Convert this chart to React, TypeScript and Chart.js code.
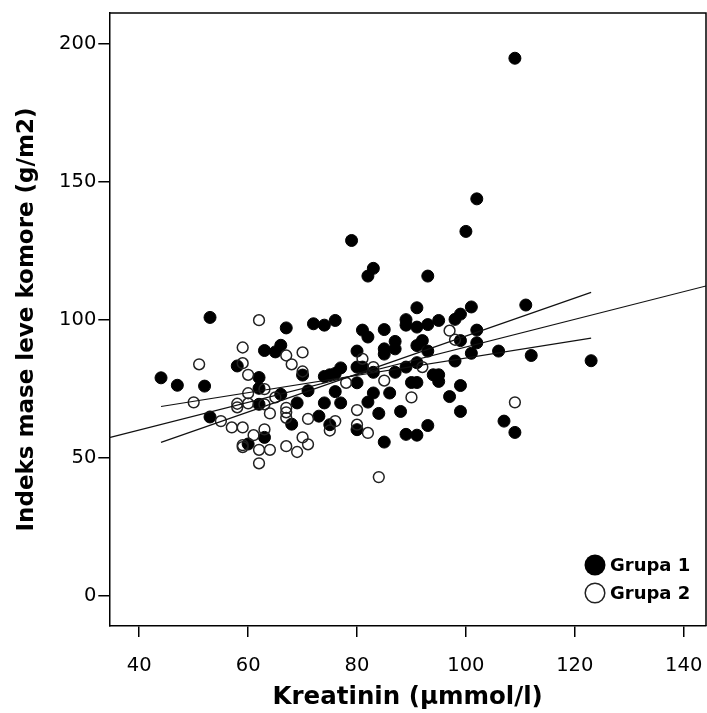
import React, { useEffect, useRef } from 'react';
import { Chart, registerables } from 'chart.js';

Chart.register(...registerables);

const X_TITLE = 'Kreatinin (µmmol/l)';
const Y_TITLE = 'Indeks mase leve komore (g/m2)';
const LEGEND_LABELS = ['Grupa 1', 'Grupa 2'];

const X_TICKS = [40, 60, 80, 100, 120, 140];
const Y_TICKS = [0, 50, 100, 150, 200];

const GRUPA1_X = [44, 47, 52, 53, 53, 58, 60, 62, 62, 62, 63, 63, 65, 66, 66, 67, 68, 69, 70, 71, 72, 73, 74, 74, 74, 75, 75, 76, 76, 76, 77, 77, 79, 80, 80, 80, 80, 81, 81, 82, 83, 82, 82, 83, 83, 84, 85, 85, 85, 85, 86, 87, 87, 87, 88, 89, 89, 89, 89, 90, 91, 91, 91, 91, 91, 91, 92, 93, 93, 93, 93, 94, 95, 95, 95, 97, 98, 98, 99, 99, 99, 99, 100, 101, 101, 102, 102, 102, 106, 107, 109, 109, 111, 112, 123];
const GRUPA1_Y = [79, 76.3, 76, 100.9, 64.8, 83.3, 55, 79.1, 75.2, 69.4, 88.9, 57.4, 88.4, 90.8, 73, 97.1, 62.2, 69.9, 80, 74.3, 98.6, 65.1, 98.1, 69.9, 79.5, 62, 80.1, 99.8, 74, 80.6, 69.9, 82.6, 128.8, 88.7, 77.2, 82.9, 60.2, 96.3, 82.9, 115.9, 118.7, 93.8, 70.2, 73.5, 81, 66.1, 96.5, 89.5, 87.6, 55.7, 73.5, 92.2, 81, 89.5, 66.8, 100.1, 98.1, 82.9, 58.5, 77.3, 104.4, 97.4, 90.7, 77.3, 58.2, 84.5, 92.5, 115.9, 98.3, 88.7, 61.7, 80.1, 99.8, 80.1, 77.7, 72.2, 85.1, 100.2, 102.1, 92.5, 76.2, 66.8, 132.1, 104.7, 87.9, 96.3, 91.7, 143.9, 88.7, 63.3, 194.9, 59.2, 105.4, 87.1, 85.2];

const GRUPA2_X = [50, 51, 55, 57, 58, 58, 59, 59, 59, 59, 59, 60, 60, 60, 61, 62, 62, 62, 63, 63, 63, 64, 64, 65, 67, 67, 67, 67, 67, 68, 69, 70, 70, 70, 71, 71, 75, 76, 78, 80, 80, 81, 82, 83, 84, 85, 90, 92, 97, 98, 109];
const GRUPA2_Y = [70.1, 83.9, 63.3, 61, 68.3, 69.6, 90, 84.3, 61, 54.6, 53.9, 80.1, 73.4, 69.7, 58.2, 99.9, 52.9, 48, 74.9, 69.4, 60.3, 66.1, 52.9, 71.9, 87.1, 68.1, 66.5, 64.5, 54.2, 83.9, 52.1, 88.2, 81.3, 57.4, 64.1, 54.9, 59.9, 63.3, 77.2, 67.3, 62, 85.9, 59, 82.9, 43, 78, 71.9, 82.9, 96.1, 92.8, 70.1];

const FIT_ALL_X = [34.5, 144.1];
const FIT_ALL_Y = [57.3, 112.3];
const FIT_A_X = [44, 123];
const FIT_A_Y = [55.6, 110];
const FIT_B_X = [44, 123];
const FIT_B_Y = [68.6, 93.4];

const toPoints = (xs: number[], ys: number[]) => xs.map((x, i) => ({ x, y: ys[i] }));

const AREA_RIGHT = 706;

const fixAreaPlugin = {
  id: 'fixArea',
  afterLayout(chart: any) {
    const xs = chart.scales.x;
    if (Math.abs(xs.right - AREA_RIGHT) > 0.1) {
      xs.right = AREA_RIGHT;
      xs.width = AREA_RIGHT - xs.left;
      xs.configure();
      chart.chartArea.right = AREA_RIGHT;
      chart.chartArea.width = AREA_RIGHT - chart.chartArea.left;
    }
  },
};

const framePlugin = {
  id: 'frame',
  afterDraw(chart: any) {
    const { ctx, chartArea } = chart;
    const { left, top, right, bottom } = chartArea;
    ctx.save();
    ctx.strokeStyle = '#000';
    ctx.lineWidth = 1.5;
    ctx.beginPath();
    ctx.moveTo(left, top);
    ctx.lineTo(right, top);
    ctx.lineTo(right, bottom);
    ctx.stroke();
    ctx.restore();
  },
};

const legendPlugin = {
  id: 'customLegend',
  afterDraw(chart: any) {
    const { ctx } = chart;
    ctx.save();
    const mx = 595;
    const rows = [565, 593];
    ctx.font = 'bold 18px "DejaVu Sans"';
    ctx.textBaseline = 'middle';
    ctx.textAlign = 'left';
    rows.forEach((cy, i) => {
      ctx.beginPath();
      ctx.arc(mx, cy, i === 0 ? 10.5 : 9.8, 0, Math.PI * 2);
      if (i === 0) {
        ctx.fillStyle = '#000';
        ctx.fill();
      } else {
        ctx.strokeStyle = '#222';
        ctx.lineWidth = 1.5;
        ctx.stroke();
      }
      ctx.fillStyle = '#000';
      ctx.fillText(LEGEND_LABELS[i], 610, cy + 1);
    });
    ctx.restore();
  },
};

export default function App() {
  const ref = useRef<HTMLCanvasElement | null>(null);

  useEffect(() => {
    if (!ref.current) return;
    const lineStyle = {
      type: 'scatter' as const,
      showLine: true,
      borderColor: '#111',
      borderWidth: 1.2,
      pointRadius: 0,
      pointHoverRadius: 0,
      fill: false,
    };
    const chart = new Chart(ref.current, {
      type: 'scatter',
      data: {
        datasets: [
          { ...lineStyle, label: 'fit', data: toPoints(FIT_ALL_X, FIT_ALL_Y), order: 0 },
          { ...lineStyle, label: 'fitA', data: toPoints(FIT_A_X, FIT_A_Y), order: 0 },
          { ...lineStyle, label: 'fitB', data: toPoints(FIT_B_X, FIT_B_Y), order: 0 },
          {
            label: LEGEND_LABELS[1],
            data: toPoints(GRUPA2_X, GRUPA2_Y),
            pointRadius: 5.4,
            pointBorderWidth: 1.5,
            pointBackgroundColor: 'rgba(0,0,0,0)',
            pointBorderColor: '#222',
            order: 1,
          },
          {
            label: LEGEND_LABELS[0],
            data: toPoints(GRUPA1_X, GRUPA1_Y),
            pointRadius: 6,
            pointBorderWidth: 1,
            pointBackgroundColor: '#000',
            pointBorderColor: '#000',
            order: 2,
          },
        ],
      },
      options: {
        responsive: false,
        animation: false,
        events: [],
        layout: { padding: { top: 13, right: 1, left: 0, bottom: 0 } },
        plugins: { legend: { display: false }, tooltip: { enabled: false } },
        scales: {
          x: {
            type: 'linear',
            min: 34.5,
            max: 144.1,
            afterBuildTicks: (s: any) => {
              s.ticks = X_TICKS.map((v) => ({ value: v }));
            },
            afterFit: (s: any) => {
              s.height = 87;
              s.paddingLeft = 0;
              s.paddingRight = 0;
            },
            ticks: {
              font: { family: 'DejaVu Sans', size: 19.5 },
              color: '#000',
              padding: 17,
              maxRotation: 0,
              autoSkip: false,
            },
            grid: { drawOnChartArea: false, drawTicks: true, tickLength: 11, color: '#000', lineWidth: 1.5 },
            border: { display: true, color: '#000', width: 1.5 },
            title: {
              display: true,
              text: X_TITLE,
              color: '#000',
              font: { family: 'DejaVu Sans', size: 24.5, weight: 'bold' },
              padding: { top: 0, bottom: 1 },
            },
          },
          y: {
            type: 'linear',
            min: -11,
            max: 211.3,
            afterBuildTicks: (s: any) => {
              s.ticks = Y_TICKS.map((v) => ({ value: v }));
            },
            afterFit: (s: any) => {
              s.width = 109.3;
              s.paddingTop = 0;
              s.paddingBottom = 0;
            },
            ticks: {
              font: { family: 'DejaVu Sans', size: 19.5 },
              color: '#000',
              padding: 2,
            },
            grid: { drawOnChartArea: false, drawTicks: true, tickLength: 11, color: '#000', lineWidth: 1.5 },
            border: { display: true, color: '#000', width: 1.5 },
            title: {
              display: true,
              text: Y_TITLE,
              color: '#000',
              font: { family: 'DejaVu Sans', size: 23, weight: 'bold' },
              padding: { top: 13, bottom: 0 },
            },
          },
        },
      },
      plugins: [fixAreaPlugin, framePlugin, legendPlugin],
    } as any);
    return () => chart.destroy();
  }, []);

  return (
    <div style={{ position: 'absolute', left: 0, top: 0, width: 707, height: 713, background: '#fff' }}>
      <canvas ref={ref} width={707} height={713} style={{ display: 'block', width: 707, height: 713 }} />
    </div>
  );
}
